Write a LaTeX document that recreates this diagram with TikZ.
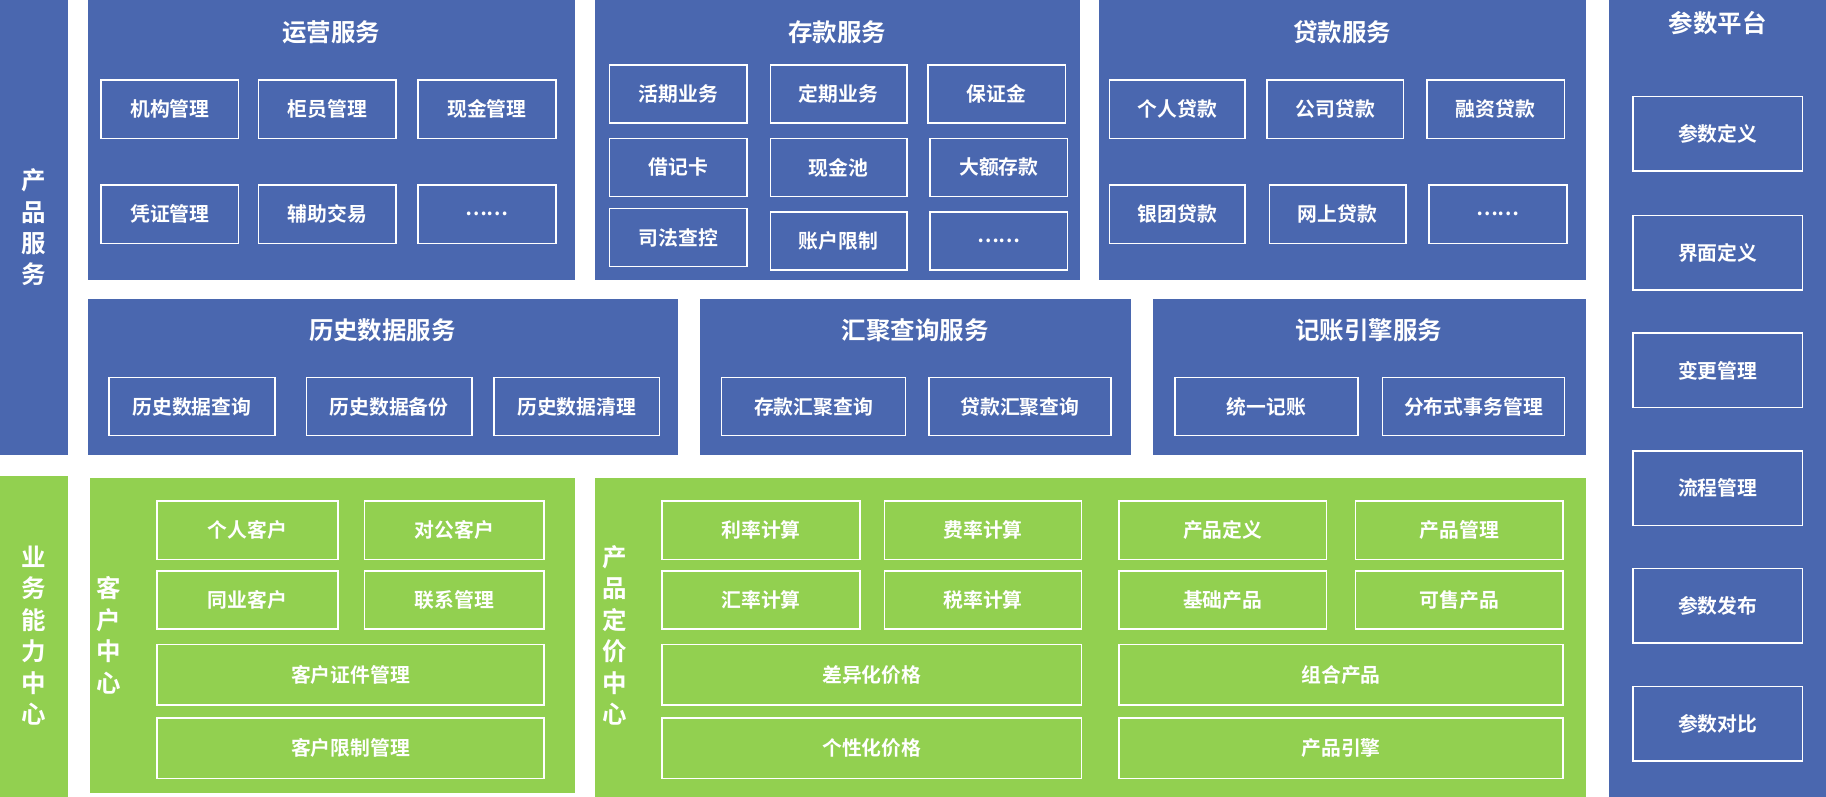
\documentclass[tikz,border=0pt]{standalone}
\usepackage{fontspec}
\setmainfont{Noto Sans CJK SC}[BoldFont={* Bold}]
\usetikzlibrary{positioning}
\definecolor{pblue}{HTML}{4A67AF}
\definecolor{pgreen}{HTML}{92D050}
\tikzset{
  panel/.style={fill=#1,draw=none,inner sep=0pt,anchor=north west},
  cellbox/.style={draw=white,line width=1.3pt,inner sep=0pt,anchor=north west,
    text=white,font=\bfseries\fontsize{17}{20}\selectfont},
  ptitle/.style={text=white,font=\bfseries\fontsize{21}{24}\selectfont},
  vtitle/.style={text=white,align=center,font=\bfseries\fontsize{21}{27}\selectfont}
}
% box from corner (x1,y1) to (x2,y2)
\newcommand\cellbox[6]{\node[cellbox,minimum width={(#4-#2)*1pt},minimum height={(#5-#3)*1pt}] (#1) at (#2,#3) {#6};}
\newcommand\panelbox[6]{\node[panel=#6,minimum width={(#4-#2)*1pt},minimum height={(#5-#3)*1pt}] (#1) at (#2,#3) {};}
\begin{document}
\begin{tikzpicture}[x=1pt,y=-1pt]
\useasboundingbox (0,0) rectangle (1566,683);
% panels
\panelbox{prod}{0}{0}{58}{390}{pblue}
\panelbox{biz}{0}{408}{58}{683}{pgreen}
\panelbox{ops}{75}{0}{493}{240}{pblue}
\panelbox{dep}{510}{0}{926}{240}{pblue}
\panelbox{loan}{942}{0}{1360}{240}{pblue}
\panelbox{param}{1380}{0}{1566}{683}{pblue}
\panelbox{hist}{75}{256}{581}{390}{pblue}
\panelbox{agg}{600}{256}{970}{390}{pblue}
\panelbox{acct}{989}{256}{1360}{390}{pblue}
\panelbox{cust}{77}{410}{493}{680}{pgreen}
\panelbox{price}{510}{410}{1360}{683}{pgreen}
% side titles
\node[vtitle] (tprod) at (29,195) {产\\品\\服\\务};
\node[vtitle] (tbiz) at (29,545) {业\\务\\能\\力\\中\\心};
\node[vtitle] (tcust) at (93,545) {客\\户\\中\\心};
\node[vtitle] (tprice) at (527,545) {产\\品\\定\\价\\中\\心};
% panel titles
\node[ptitle] (tops) at (284,28) {运营服务};
\node[ptitle] (tdep) at (718,28) {存款服务};
\node[ptitle] (tloan) at (1151,28) {贷款服务};
\node[ptitle] (tparam) at (1473,20) {参数平台};
\node[ptitle] (thist) at (328,283) {历史数据服务};
\node[ptitle] (tagg) at (785,283) {汇聚查询服务};
\node[ptitle] (tacct) at (1174,283) {记账引擎服务};
% 运营服务
\cellbox{o1}{86}{68}{204}{118}{机构管理}
\cellbox{o2}{221}{68}{339}{118}{柜员管理}
\cellbox{o3}{358}{68}{476}{118}{现金管理}
\cellbox{o4}{86}{158}{204}{208}{凭证管理}
\cellbox{o5}{221}{158}{339}{208}{辅助交易}
\cellbox{o6}{358}{158}{476}{208}{……}
% 存款服务
\cellbox{d1}{522}{55}{640}{105}{活期业务}
\cellbox{d2}{660}{55}{777}{105}{定期业务}
\cellbox{d3}{795}{55}{913}{105}{保证金}
\cellbox{d4}{522}{118}{640}{168}{借记卡}
\cellbox{d5}{660}{118}{777}{168}{现金池}
\cellbox{d6}{797}{118}{915}{168}{大额存款}
\cellbox{d7}{522}{178}{640}{228}{司法查控}
\cellbox{d8}{660}{181}{777}{231}{账户限制}
\cellbox{d9}{797}{181}{915}{231}{……}
% 贷款服务
\cellbox{l1}{951}{68}{1067}{118}{个人贷款}
\cellbox{l2}{1086}{68}{1203}{118}{公司贷款}
\cellbox{l3}{1223}{68}{1341}{118}{融资贷款}
\cellbox{l4}{951}{158}{1067}{208}{银团贷款}
\cellbox{l5}{1088}{158}{1205}{208}{网上贷款}
\cellbox{l6}{1225}{158}{1343}{208}{……}
% 参数平台
\cellbox{p1}{1400}{82}{1545}{146}{参数定义}
\cellbox{p2}{1400}{184}{1545}{248}{界面定义}
\cellbox{p3}{1400}{285}{1545}{349}{变更管理}
\cellbox{p4}{1400}{386}{1545}{450}{流程管理}
\cellbox{p5}{1400}{487}{1545}{551}{参数发布}
\cellbox{p6}{1400}{588}{1545}{652}{参数对比}
% 历史 / 汇聚 / 记账
\cellbox{h1}{93}{323}{235}{373}{历史数据查询}
\cellbox{h2}{262}{323}{404}{373}{历史数据备份}
\cellbox{h3}{423}{323}{565}{373}{历史数据清理}
\cellbox{a1}{618}{323}{776}{373}{存款汇聚查询}
\cellbox{a2}{796}{323}{952}{373}{贷款汇聚查询}
\cellbox{e1}{1007}{323}{1164}{373}{统一记账}
\cellbox{e2}{1185}{323}{1341}{373}{分布式事务管理}
% 客户中心
\cellbox{c1}{134}{429}{289}{479}{个人客户}
\cellbox{c2}{312}{429}{466}{479}{对公客户}
\cellbox{c3}{134}{489}{289}{539}{同业客户}
\cellbox{c4}{312}{489}{466}{539}{联系管理}
\cellbox{c5}{134}{552}{466}{604}{客户证件管理}
\cellbox{c6}{134}{615}{466}{667}{客户限制管理}
% 产品定价中心
\cellbox{r1}{567}{429}{737}{479}{利率计算}
\cellbox{r2}{758}{429}{927}{479}{费率计算}
\cellbox{r3}{959}{429}{1137}{479}{产品定义}
\cellbox{r4}{1162}{429}{1340}{479}{产品管理}
\cellbox{r5}{567}{489}{737}{539}{汇率计算}
\cellbox{r6}{758}{489}{927}{539}{税率计算}
\cellbox{r7}{959}{489}{1137}{539}{基础产品}
\cellbox{r8}{1162}{489}{1340}{539}{可售产品}
\cellbox{r9}{567}{552}{927}{604}{差异化价格}
\cellbox{r10}{959}{552}{1340}{604}{组合产品}
\cellbox{r11}{567}{615}{927}{667}{个性化价格}
\cellbox{r12}{959}{615}{1340}{667}{产品引擎}
\end{tikzpicture}
\end{document}
